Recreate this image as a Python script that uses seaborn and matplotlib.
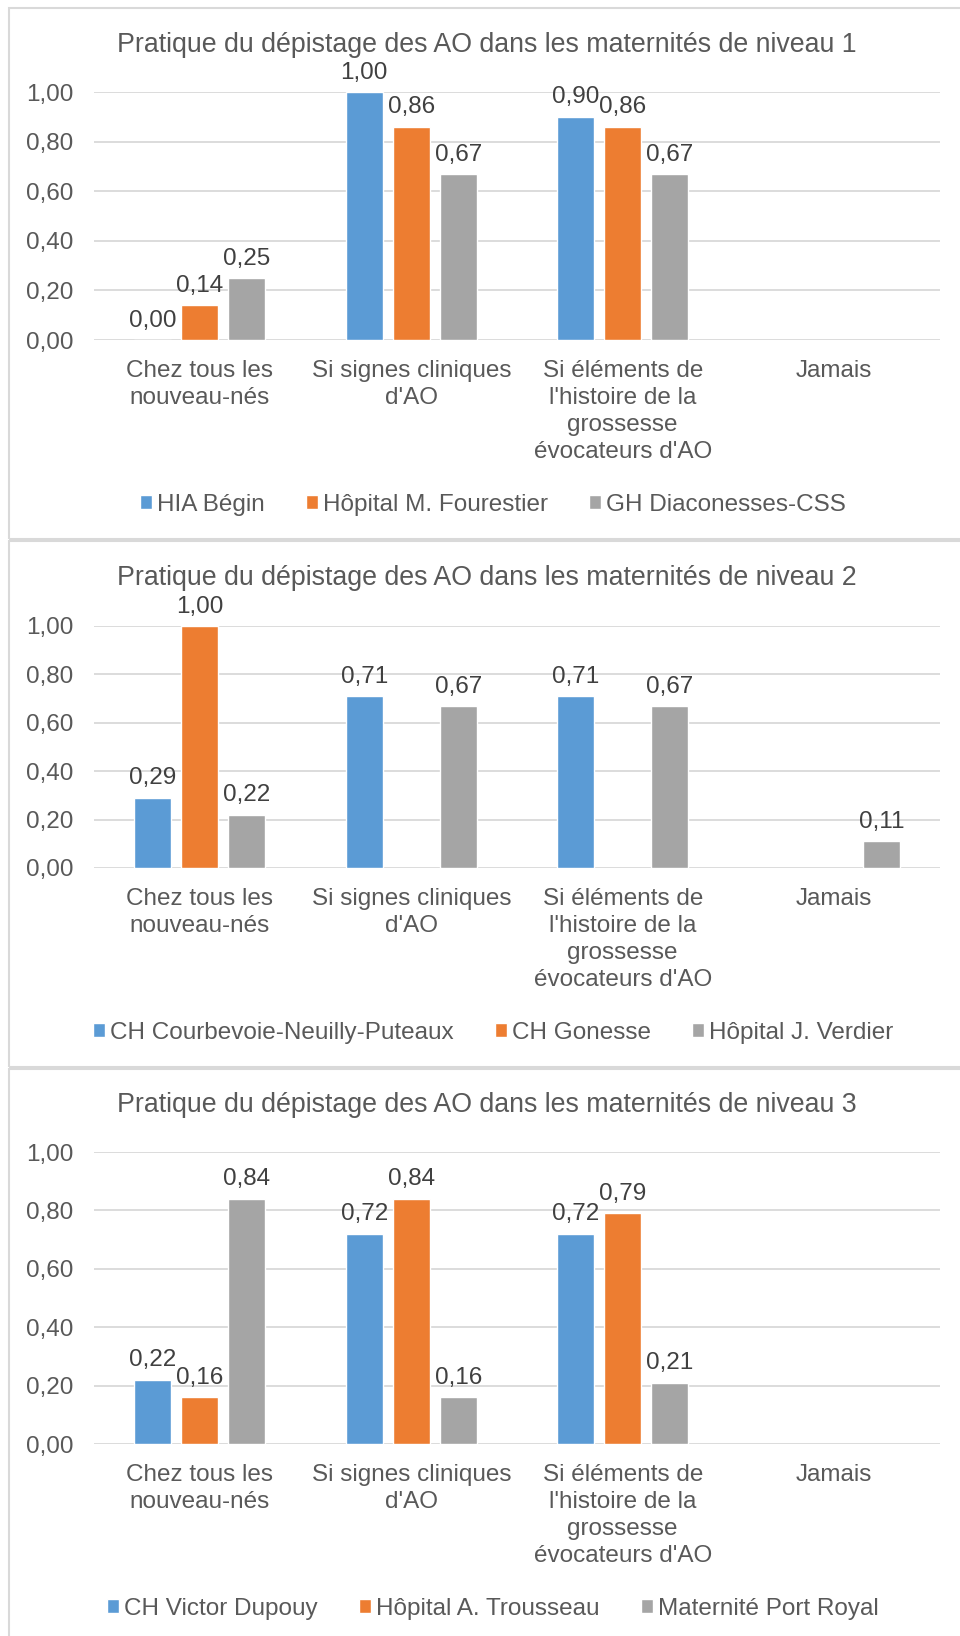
import numpy as np
import pandas as pd
import matplotlib
matplotlib.use("Agg")
import matplotlib.pyplot as plt
from matplotlib.patches import Rectangle
import seaborn as sns

categories = ["Chez tous les\nnouveau-nés", "Si signes cliniques\nd'AO",
              "Si éléments de\nl'histoire de la\ngrossesse\névocateurs d'AO", "Jamais"]

titles = ["Pratique du dépistage des AO dans les maternités de niveau 1",
          "Pratique du dépistage des AO dans les maternités de niveau 2",
          "Pratique du dépistage des AO dans les maternités de niveau 3"]

hosp_1 = ["HIA Bégin", "Hôpital M. Fourestier", "GH Diaconesses-CSS"]
vals_1 = [[0.00, 1.00, 0.90, np.nan],
          [0.14, 0.86, 0.86, np.nan],
          [0.25, 0.67, 0.67, np.nan]]

hosp_2 = ["CH Courbevoie-Neuilly-Puteaux", "CH Gonesse", "Hôpital J. Verdier"]
vals_2 = [[0.29, 0.71, 0.71, np.nan],
          [1.00, np.nan, np.nan, np.nan],
          [0.22, 0.67, 0.67, 0.11]]

hosp_3 = ["CH Victor Dupouy", "Hôpital A. Trousseau", "Maternité Port Royal"]
vals_3 = [[0.22, 0.72, 0.72, np.nan],
          [0.16, 0.84, 0.79, np.nan],
          [0.84, 0.16, 0.21, np.nan]]

yticks = [0.0, 0.2, 0.4, 0.6, 0.8, 1.0]
colors = ["#5B9BD5", "#ED7D31", "#A5A5A5"]

sns.set_theme(style="white")
plt.rcParams['font.family'] = ['Liberation Sans', 'DejaVu Sans']

W, H = 960, 1636
FS = 17.5
fig = plt.figure(figsize=(W / 100, H / 100), dpi=100)

def fx(px):
    return px / W

def fy(py):
    return 1 - py / H

# panel layouts in pixels: box top/bottom, axes top/bottom, title y, legend y
panels = [
    dict(box=(8, 539), ax=(92, 340), title=45, legend=505),
    dict(box=(541, 1067), ax=(626, 868), title=578, legend=1033),
    dict(box=(1069, 1645), ax=(1152, 1444), title=1105, legend=1609),
]

def fmt(v):
    return f"{v:.2f}".replace(".", ",")

def draw_panel(p, title, hosps, vals):
    top, bot = p["box"]
    fig.patches.append(Rectangle((fx(9), fy(bot)), 1.2, (bot - top) / H,
                                 transform=fig.transFigure, fill=False,
                                 edgecolor="#D9D9D9", linewidth=1.5))
    a_top, a_bot = p["ax"]
    ax = fig.add_axes([fx(94), fy(a_bot), fx(940) - fx(94), (a_bot - a_top) / H])

    rows = []
    for h, vs in zip(hosps, vals):
        for c, v in zip(categories, vs):
            rows.append({"cat": c, "hosp": h, "val": v})
    df = pd.DataFrame(rows)

    sns.barplot(data=df, x="cat", y="val", hue="hosp", order=categories,
                hue_order=hosps, palette=colors, width=0.667, gap=0.21,
                errorbar=None, ax=ax, saturation=1)

    for cont in ax.containers:
        labels = [fmt(b.get_height()) for b in cont]
        ax.bar_label(cont, labels=labels, padding=6, fontsize=FS, color="#404040")

    ax.set_ylim(0, 1.0)
    ax.set_xlim(-0.5, 3.5)
    ax.set_yticks(yticks)
    ax.set_yticklabels([fmt(t) for t in yticks])
    ax.yaxis.grid(True, color="#D9D9D9", linewidth=1.3)
    ax.set_axisbelow(True)
    for s in ax.spines.values():
        s.set_visible(False)
    ax.tick_params(axis="y", length=0, pad=15, labelsize=FS, labelcolor="#595959")
    ax.tick_params(axis="x", length=0, pad=14.5, labelsize=FS, labelcolor="#595959")
    for lab in ax.get_xticklabels():
        lab.set_linespacing(1.3)
        lab.set_verticalalignment("top")
    ax.set_xlabel("")
    ax.set_ylabel("")

    fig.text(fx(487), fy(p["title"]), title, ha="center", va="center",
             fontsize=19.3, color="#595959")

    sns.move_legend(ax, "center", bbox_to_anchor=(fx(493), fy(p["legend"])),
                    bbox_transform=fig.transFigure, ncol=3, frameon=False,
                    title=None, fontsize=FS, handlelength=0.5, handleheight=0.5,
                    handletextpad=0.2, columnspacing=1.7, labelcolor="#595959")

draw_panel(panels[0], titles[0], hosp_1, vals_1)
draw_panel(panels[1], titles[1], hosp_2, vals_2)
draw_panel(panels[2], titles[2], hosp_3, vals_3)

fig.savefig("out.png", dpi=100, facecolor="white")
